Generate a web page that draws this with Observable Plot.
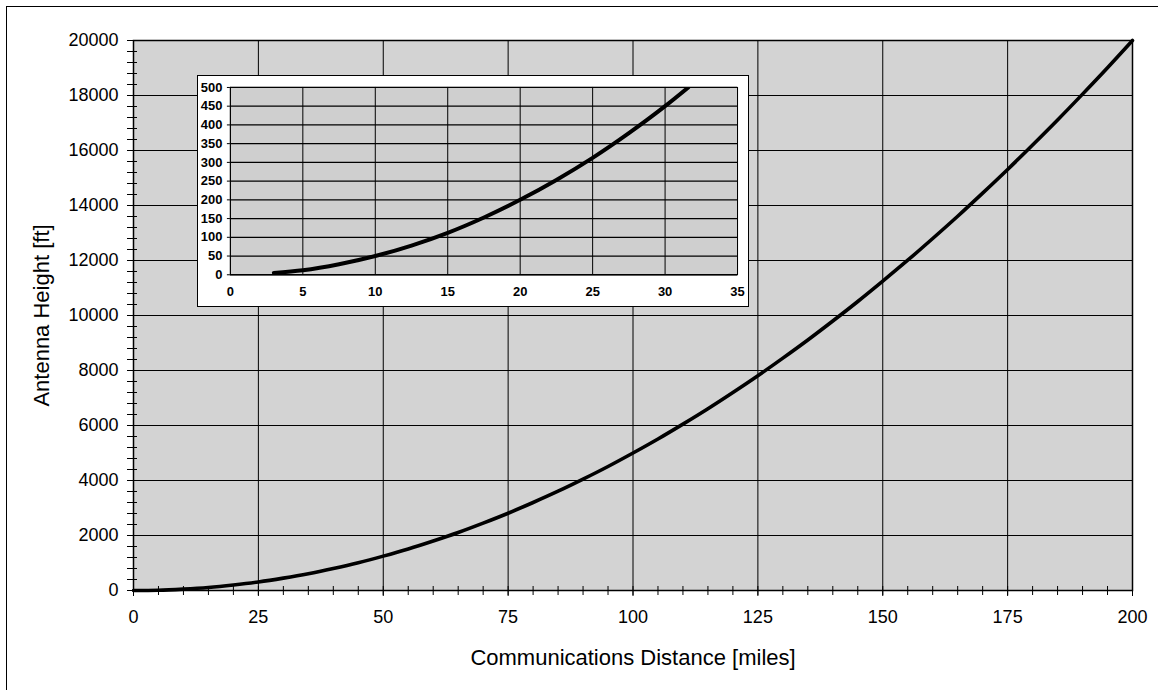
<!DOCTYPE html>
<html>
<head>
<meta charset="utf-8">
<script src="https://cdn.jsdelivr.net/npm/d3@7"></script>
<script src="https://cdn.jsdelivr.net/npm/@observablehq/plot@0.6"></script>
<style>
  html, body { margin: 0; padding: 0; background: #fff; }
  #wrap { position: relative; width: 1158px; height: 690px; overflow: hidden; font-family: "Liberation Sans", Arial, sans-serif; }
  #frame { position: absolute; left: 6px; top: 6px; width: 1200px; height: 800px; border-top: 1.5px solid #000; border-left: 1.5px solid #000; }
  #main { position: absolute; left: 0; top: 0; }
  #inset { position: absolute; left: 197px; top: 75px; width: 552px; height: 232px; background: #fff; border: 1.5px solid #000; box-sizing: border-box; }
  #inset svg { position: absolute; left: -1.5px; top: -1.5px; }
</style>
</head>
<body>
<div id="wrap">
  <div id="frame"></div>
  <div id="main"></div>
  <div id="inset"></div>
</div>
<script>
// Main chart: antenna height [ft] vs communications distance [miles]
const mainDistance = [0, 5, 10, 15, 20, 25, 30, 35, 40, 45, 50, 55, 60, 65, 70, 75, 80, 85, 90, 95, 100,
  105, 110, 115, 120, 125, 130, 135, 140, 145, 150, 155, 160, 165, 170, 175, 180, 185, 190, 195, 200];
const mainHeight = [0, 10, 50, 110, 200, 310, 450, 610, 800, 1010, 1250, 1510, 1800, 2110, 2450, 2810, 3200, 3610, 4050, 4510, 5000,
  5510, 6050, 6610, 7200, 7810, 8450, 9110, 9800, 10510, 11250, 12010, 12800, 13610, 14450, 15310, 16200, 17110, 18050, 19010, 20000];

// Inset: close-up of the first 35 miles
const insetDistance = [3, 5, 7.5, 10, 12.5, 15, 17.5, 20, 22.5, 25, 27.5, 30, 31.6];
const insetHeight = [5, 12, 28, 50, 78, 112, 153, 200, 253, 312, 378, 450, 500];

const mainXTicks = [0, 25, 50, 75, 100, 125, 150, 175, 200];
const mainYTicks = [0, 2000, 4000, 6000, 8000, 10000, 12000, 14000, 16000, 18000, 20000];
const mainXMinor = d3.range(0, 201, 5);
const mainYMinor = d3.range(0, 20001, 400);
const insetXTicks = [0, 5, 10, 15, 20, 25, 30, 35];
const insetYTicks = [0, 50, 100, 150, 200, 250, 300, 350, 400, 450, 500];

const mainData = mainDistance.map((d, i) => ({d, h: mainHeight[i]}));
const insetData = insetDistance.map((d, i) => ({d, h: insetHeight[i]}));

const font = '"Liberation Sans", Arial, sans-serif';

const main = Plot.plot({
  width: 1158,
  height: 690,
  marginLeft: 133,
  marginRight: 26,
  marginTop: 40,
  marginBottom: 100,
  style: {fontFamily: font, fontSize: "18px", color: "#000", background: "transparent", overflow: "visible"},
  x: {domain: [0, 200]},
  y: {domain: [0, 20000]},
  marks: [
    Plot.frame({fill: "#d3d3d3", stroke: null}),
    Plot.gridX(mainXTicks, {stroke: "#000", strokeOpacity: 1, strokeWidth: 1}),
    Plot.gridY(mainYTicks, {stroke: "#000", strokeOpacity: 1, strokeWidth: 1}),
    Plot.axisX(mainXMinor, {tickSize: 9, dy: -4, tickFormat: () => "", label: null, strokeWidth: 1}),
    Plot.axisY(mainYMinor, {tickSize: 10, dx: 4, tickFormat: () => "", label: null, strokeWidth: 1}),
    Plot.axisX(mainXTicks, {tickSize: 6, tickPadding: 14, tickFormat: d3.format("d"), fontSize: 18,
      label: "Communications Distance [miles]", labelAnchor: "center", labelArrow: "none", labelOffset: 74}),
    Plot.axisY(mainYTicks, {tickSize: 6, tickPadding: 9, tickFormat: d3.format("d"), fontSize: 18,
      label: "Antenna Height [ft]", labelAnchor: "center", labelArrow: "none", labelOffset: 100}),
    Plot.line(mainData, {x: "d", y: "h", stroke: "#000", strokeWidth: 3.6, curve: "monotone-x"}),
    Plot.frame({stroke: "#000", strokeWidth: 1.5})
  ]
});
main.querySelectorAll('[aria-label="x-axis label"] text, [aria-label="y-axis label"] text').forEach(t => t.setAttribute("font-size", "22"));
document.getElementById("main").appendChild(main);

const inset = Plot.plot({
  width: 552,
  height: 232,
  marginLeft: 33,
  marginRight: 10,
  marginTop: 12,
  marginBottom: 32,
  style: {fontFamily: font, fontSize: "13px", color: "#000", background: "transparent", overflow: "visible"},
  x: {domain: [0, 35]},
  y: {domain: [0, 500]},
  marks: [
    Plot.frame({fill: "#cfcfcf", stroke: null}),
    Plot.gridX(insetXTicks, {stroke: "#000", strokeOpacity: 1, strokeWidth: 1}),
    Plot.gridY(insetYTicks, {stroke: "#000", strokeOpacity: 1, strokeWidth: 1.3}),
    Plot.axisX(insetXTicks, {tickSize: 0, tickPadding: 12, fontSize: 13, fontWeight: "bold", label: null}),
    Plot.axisY(insetYTicks, {tickSize: 3, tickPadding: 5, fontSize: 13, fontWeight: "bold", label: null}),
    Plot.line(insetData, {x: "d", y: "h", stroke: "#000", strokeWidth: 4, curve: "monotone-x", clip: true}),
    Plot.frame({stroke: "#000", strokeWidth: 1})
  ]
});
document.getElementById("inset").appendChild(inset);
</script>
</body>
</html>
